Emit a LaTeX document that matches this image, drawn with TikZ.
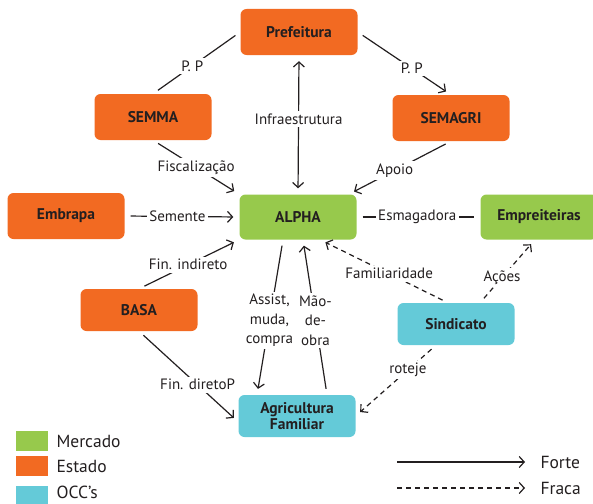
\documentclass[tikz,border=0pt]{standalone}
\usepackage{fontspec}
\setmainfont{PT Sans}
\usetikzlibrary{arrows.meta,positioning}

\definecolor{laranja}{HTML}{F26A22}
\definecolor{verde}{HTML}{97C94C}
\definecolor{ciano}{HTML}{64CAD8}
\definecolor{tinta}{HTML}{231F20}

\tikzset{
  caixa/.style={rectangle, rounded corners=6pt, minimum width=117pt, minimum height=46pt,
    text=tinta, font=\fontsize{15.5}{17}\selectfont\bfseries, align=center},
  estado/.style={caixa, fill=laranja},
  mercado/.style={caixa, fill=verde},
  occ/.style={caixa, fill=ciano},
  rotulo/.style={fill=white, inner sep=2.5pt, text=tinta, font=\fontsize{15}{19.5}\selectfont, align=center},
  legenda/.style={anchor=west, text=tinta, font=\fontsize{17.5}{19}\selectfont},
  forte/.style={draw=tinta, line width=1.2pt, shorten <=6pt, shorten >=6pt},
  fraca/.style={forte, dash pattern=on 5pt off 4pt},
  seta/.style={-{Straight Barb[length=5pt,width=11pt]}},
}

\begin{document}
\begin{tikzpicture}[x=1pt, y=-1pt]
  \useasboundingbox (0,0) rectangle (593,503);
  \clip (0,0) rectangle (593,503);

  % atores
  \node[estado] (prefeitura) at (299,32) {Prefeitura};
  \node[estado] (semma) at (153,117) {SEMMA};
  \node[estado] (semagri) at (451,118) {SEMAGRI};
  \node[estado] (embrapa) at (66,216) {Embrapa};
  \node[mercado, minimum height=45pt] (alpha) at (298,217) {ALPHA};
  \node[mercado, minimum height=45pt] (empreiteiras) at (539,217) {Empreiteiras};
  \node[estado, minimum height=42pt] (basa) at (139,310) {BASA};
  \node[occ, minimum height=42pt] (sindicato) at (456,324) {Sindicato};
  \node[occ, minimum height=42pt] (agricultura) at (297,416) {Agricultura\\[-1pt]Familiar};

  % relacoes fortes
  \draw[forte] (prefeitura.west) -- node[rotulo, pos=0.55] {P. P} (semma.north);
  \draw[forte, seta] (prefeitura.east) -- node[rotulo, pos=0.58] {P. P} (semagri.north);
  \draw[forte, {Straight Barb[length=5pt,width=11pt]}-{Straight Barb[length=5pt,width=11pt]}]
    (prefeitura.south) -- node[rotulo, pos=0.46] {Infraestrutura} (alpha.north);
  \draw[forte, seta] (semma.south) -- node[rotulo, pos=0.5] {Fiscalização} (alpha.north west);
  \draw[forte, seta] (semagri.south) -- node[rotulo, pos=0.55] {Apoio} ([xshift=-8]alpha.north east);
  \draw[forte, seta] (embrapa.east) -- node[rotulo, pos=0.46] {Semente} (alpha.west);
  \draw[forte] (alpha.east) -- node[rotulo, pos=0.49] {Esmagadora} (empreiteiras.west);
  \draw[forte, seta] (basa.north) -- node[rotulo, pos=0.49] {Fin. indireto} (alpha.south west);
  \draw[forte, seta] ([xshift=-15]alpha.south) -- node[rotulo, pos=0.52] {Assist,\\muda,\\compra}
    ([xshift=-40]agricultura.north);
  \draw[forte, seta] ([xshift=30]agricultura.north) -- node[rotulo, pos=0.48] {Mão-\\de-\\obra}
    ([xshift=5]alpha.south);
  \draw[forte, seta] (basa.south) -- node[rotulo, pos=0.59] {Fin. diretoP} ([yshift=-6]agricultura.west);

  % relacoes fracas
  \draw[fraca, seta] ([xshift=-8]sindicato.north) -- node[rotulo, pos=0.46] {Familiaridade}
    ([xshift=22]alpha.south);
  \draw[fraca, seta] ([xshift=24]sindicato.north) -- node[rotulo, pos=0.4] {Ações}
    ([xshift=-4]empreiteiras.south);
  \draw[fraca, seta] ([xshift=-20]sindicato.south) -- node[rotulo, pos=0.35] {roteje}
    (agricultura.east);

  % legenda
  \fill[verde] (16,431) rectangle (48,451);
  \fill[laranja] (16,456) rectangle (48,476);
  \fill[ciano] (16,486) rectangle (48,506);
  \node[legenda] (lmercado) at (53,441) {Mercado};
  \node[legenda] (lestado) at (53,466) {Estado};
  \node[legenda] (locc) at (53,492) {OCC’s};

  \coordinate (forteA) at (397,462);
  \coordinate (forteB) at (525,462);
  \coordinate (fracaA) at (397,488);
  \coordinate (fracaB) at (525,488);
  \draw[draw=tinta, line width=1.2pt, seta] (forteA) -- (forteB);
  \draw[draw=tinta, line width=1.2pt, dash pattern=on 5pt off 4pt, seta] (fracaA) -- (fracaB);
  \node[legenda] (lforte) at (537,462) {Forte};
  \node[legenda] (lfraca) at (537,488) {Fraca};
\end{tikzpicture}
\end{document}
